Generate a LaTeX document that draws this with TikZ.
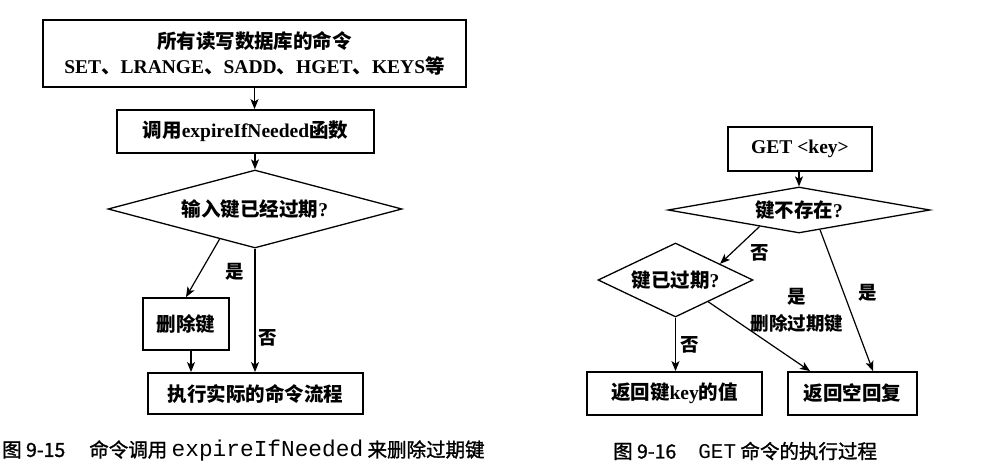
\documentclass[tikz,border=0pt]{standalone}
\usepackage{fontspec}
\setmainfont{Liberation Serif}
\setmonofont{Liberation Mono}
\newfontfamily\cjk{Noto Sans CJK SC}
\newfontfamily\cjkcap{Noto Sans CJK SC}[FakeBold=1.3]
\usetikzlibrary{shapes.geometric,arrows.meta,calc}
\newcommand\zh[1]{{\cjk #1}}
\tikzset{
 box/.style={draw, line width=1.8pt, inner sep=0pt, align=center, font=\fontsize{19.5}{25}\selectfont\bfseries},
 dia/.style={draw, diamond, line width=1.3pt, inner sep=0pt, align=center, font=\fontsize{19.5}{25}\selectfont\bfseries},
 arr/.style={-{Stealth[length=10pt,width=8pt,inset=2.5pt]}, line width=1.2pt},
 lbl/.style={inner sep=0pt, font=\fontsize{18.5}{22}\selectfont\cjk\bfseries},
 figcap/.style={anchor=west, inner sep=0pt, font=\fontsize{19.5}{22}\selectfont\cjkcap}
}
\begin{document}
\begin{tikzpicture}[x=1pt,y=-1pt]
\useasboundingbox[fill=white] (0,0) rectangle (996,476);
% ---------- left diagram ----------
\node[box, minimum width=423pt, minimum height=67pt] (b1) at (254.5,53.5)
  {\zh{所有读写数据库的命令}\\SET\zh{、}LRANGE\zh{、}SADD\zh{、}HGET\zh{、}KEYS\zh{等}};
\node[box, minimum width=257pt, minimum height=43pt] (b2) at (245.5,131.5)
  {\zh{调用}expireIfNeeded\zh{函数}};
\node[dia, shape aspect=3.77, minimum width=294pt, minimum height=78pt] (d1) at (255,209)
  {\zh{输入键已经过期}?};
\node[box, minimum width=86pt, minimum height=52pt] (del) at (186,324) {\zh{删除键}};
\node[box, minimum width=215pt, minimum height=41pt] (exec) at (255.5,393.5)
  {\zh{执行实际的命令流程}};
\draw[arr] (b1.south) -- (b1.south |- b2.north);
\draw[arr] (d1.north |- b2.south) -- (d1.north);
\coordinate (d1y) at ($(d1.west)!0.76!(d1.south)$);
\draw[arr] (d1y) -- (del.north);
\draw[arr] ([xshift=5pt]del.south) -- ([xshift=5pt]del.south |- exec.north);
\draw[arr] (d1.south) -- (d1.south |- exec.north);
\node[lbl] (l1) at (235,272) {是};
\node[lbl] (l2) at (268,338) {否};
\node[figcap] (c1) at (2,451) {图 9-15\hspace{24pt}命令调用 {\fontsize{22.8}{22}\selectfont\ttfamily expireIfNeeded} 来删除过期键};
% ---------- right diagram ----------
\node[box, minimum width=144pt, minimum height=44pt] (get) at (800,149)
  {GET \textless key\textgreater};
\node[dia, shape aspect=5.7, minimum width=262pt, minimum height=46pt] (d2) at (799,210) {\zh{键不存在}?};
\node[dia, shape aspect=2.1, minimum width=155pt, minimum height=74pt] (d3) at (675.5,280) {\zh{键已过期}?};
\node[box, minimum width=175pt, minimum height=43pt] (val) at (674.5,393.5)
  {\zh{返回键}key\zh{的值}};
\node[box, minimum width=129pt, minimum height=43pt] (emp) at (852.5,393.5)
  {\zh{返回空回复}};
\draw[arr] (get.south -| d2.north) -- (d2.north);
\draw[arr] ($(d2.west)!0.7!(d2.south)$) -- ($(d3.north)!0.57!(d3.east)$);
\draw[arr] ($(d2.south)!0.16!(d2.east)$) -- ([xshift=20.5pt]emp.north);
\draw[arr] ($(d3.south)!0.42!(d3.east)$) -- ([xshift=-42.5pt]emp.north);
\draw[arr] (d3.south) -- (d3.south |- val.north);
\node[lbl] (l3) at (760,253) {否};
\node[lbl] (l4) at (868,293) {是};
\node[lbl] (l5) at (797,297) {是};
\node[lbl] (l6) at (797,323) {删除过期键};
\node[lbl] (l7) at (690,345) {否};
\node[figcap] (c2) at (613,451) {图 9-16\hspace{22pt}{\fontsize{21}{22}\selectfont\ttfamily GET} 命令的执行过程};
\end{tikzpicture}
\end{document}
